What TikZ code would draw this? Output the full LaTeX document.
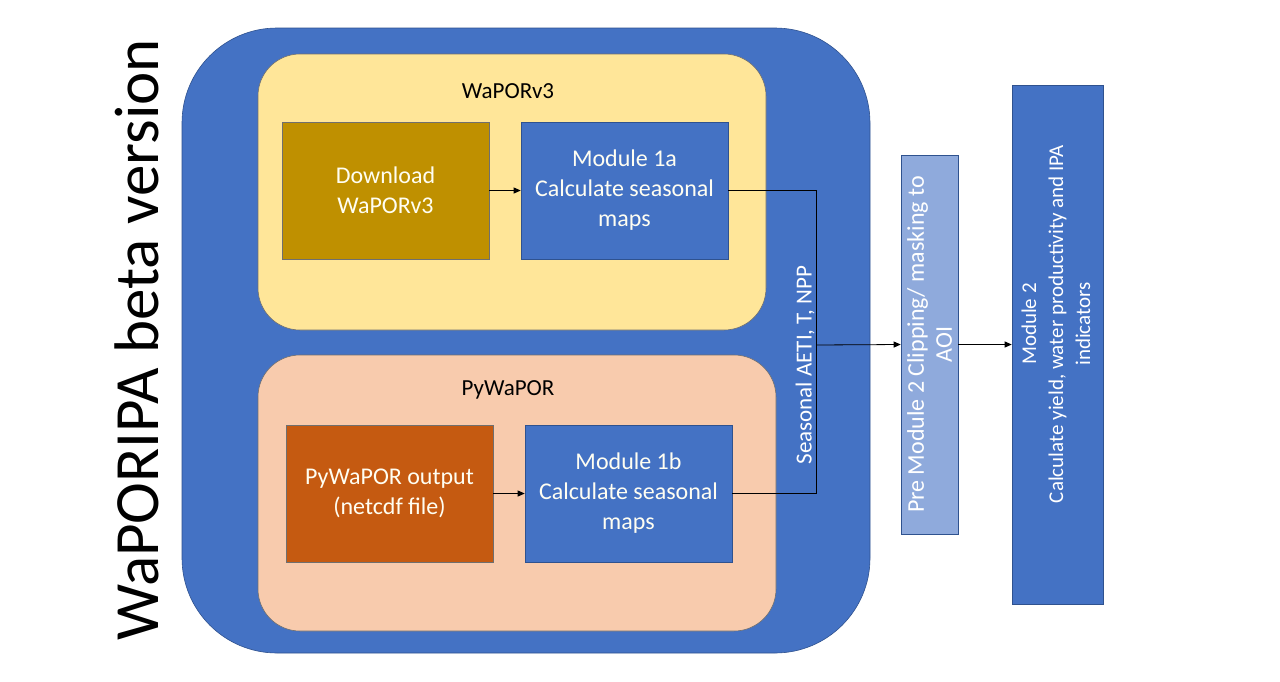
\documentclass[tikz,border=0pt]{standalone}
\usepackage{fontspec}
\setmainfont{Carlito}
\usetikzlibrary{arrows.meta}
\definecolor{mblue}{HTML}{4472C4}
\definecolor{bline}{HTML}{2F528F}
\definecolor{myellow}{HTML}{FFE699}
\definecolor{mpeach}{HTML}{F8CBAD}
\definecolor{mgold}{HTML}{BF9000}
\definecolor{morange}{HTML}{C55A11}
\definecolor{lblue}{HTML}{8FAADC}
\definecolor{gline}{HTML}{6F6F6F}
\begin{document}
\begin{tikzpicture}[x=1pt,y=-1pt,
  panel/.style={draw=gline, line width=0.6pt},
  box/.style={draw=gline, line width=0.6pt, text=white!95!yellow, align=center,
    minimum width=207pt, minimum height=137pt, inner sep=0pt,
    font=\fontsize{24}{30}\selectfont},
  vbox/.style={draw=bline, line width=0.6pt, text=white, align=center, inner sep=0pt},
  conn/.style={draw=black, line width=0.8pt},
  arr/.style={conn, -{Triangle[length=7pt,width=6pt]}},
  lab/.style={font=\fontsize{23}{26}\selectfont, text=black}
]
\useasboundingbox (0,0) rectangle (1280,681);
\fill[white] (0,0) rectangle (1280,681);
% outer
\draw[fill=mblue, draw=bline, line width=0.6pt, rounded corners=95pt] (182,28) rectangle (870,653);
\draw[panel, fill=myellow, rounded corners=42pt] (258,54) rectangle (766,330);
\draw[panel, fill=mpeach, rounded corners=42pt] (258,355) rectangle (776,631);
\node[lab] (tw) at (508,91) {WaPORv3};
\node[lab] (tp) at (508,390) {PyWaPOR};
% title
\node[rotate=90, font=\fontsize{63}{70}\selectfont, inner sep=0pt] (title) at (137,340) {WaPORIPA beta version};
% boxes
\node[box, fill=mgold] (dl) at (385.5,190.5) {Download\\WaPORv3};
\node[box, fill=mblue, draw=bline] (m1a) at (624.5,190.5) {Module 1a\\Calculate seasonal\\maps};
\node[box, fill=morange] (pw) at (389.5,493.5) {PyWaPOR output\\(netcdf file)};
\node[box, fill=mblue, draw=bline] (m1b) at (628.5,493.5) {Module 1b\\Calculate seasonal\\maps};
\node[vbox, fill=lblue, minimum width=57pt, minimum height=379pt] (pre) at (929.5,344.5) {};
\node[rotate=90, align=center, text=white, font=\fontsize{24}{28}\selectfont] (pret) at (pre.center) {Pre Module 2 Clipping/ masking to\\AOI};
\node[vbox, fill=mblue, minimum width=91pt, minimum height=519pt] (m2) at (1057.5,344.5) {};
\node[rotate=90, align=center, text=white, font=\fontsize{21}{27}\selectfont] (m2t) at (1056,324) {Module 2\\Calculate yield, water productivity and IPA\\indicators};
% connectors
\coordinate (j) at (816,345);
\draw[arr] (dl.east) -- (m1a.west);
\draw[arr] (pw.east) -- (m1b.west);
\draw[conn] (m1a.east) -| (j);
\draw[conn] (m1b.east) -| (j);
\draw[arr] (j) -- (pre.west);
\draw[arr] (pre.east) -- (m2.west);
\node[rotate=90, text=white, font=\fontsize{23}{26}\selectfont, inner sep=0pt] (seas) at (805,365) {Seasonal AETI, T, NPP};
\end{tikzpicture}
\end{document}
